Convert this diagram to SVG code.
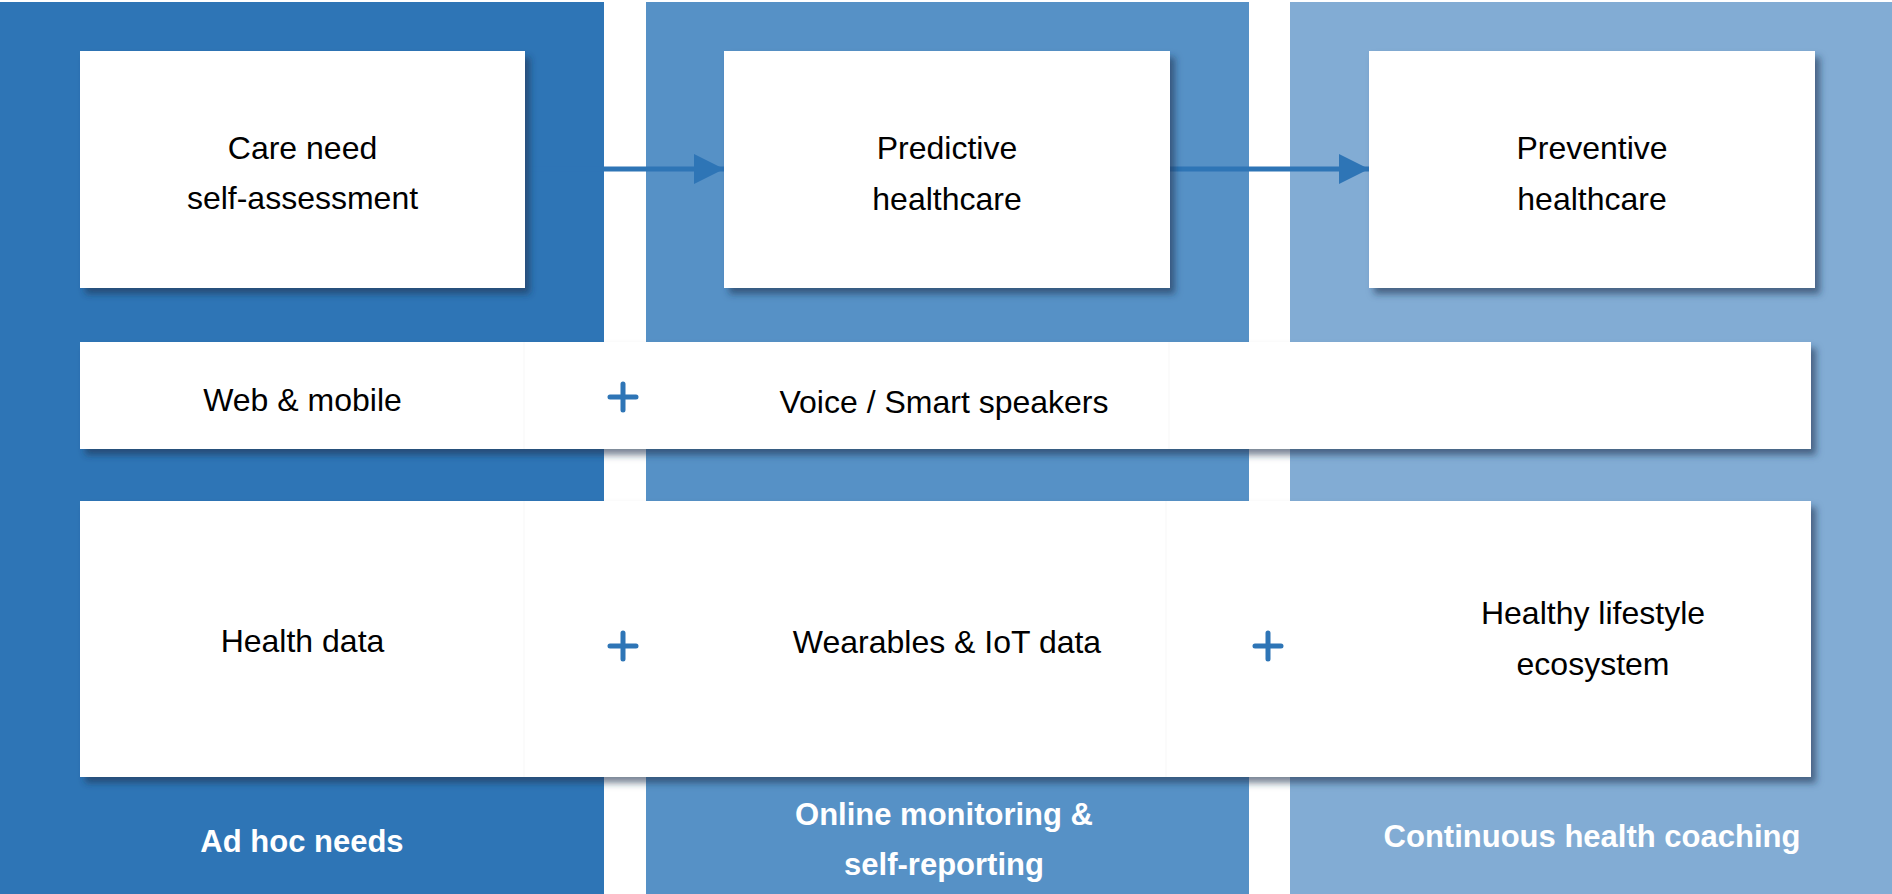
<svg xmlns="http://www.w3.org/2000/svg" width="1892" height="894" viewBox="0 0 1892 894">
<defs>
<filter id="sh" x="-5%" y="-10%" width="115%" height="130%">
<feDropShadow dx="5" dy="6" stdDeviation="3.5" flood-color="#1c3350" flood-opacity="0.6"/>
</filter>
<marker id="ah" markerUnits="userSpaceOnUse" markerWidth="32" markerHeight="32" refX="30" refY="15" orient="auto">
<path d="M0,0 L30,15 L0,30 Z" fill="#2E75B6"/>
</marker>
</defs>
<style>
.box{fill:#ffffff;filter:url(#sh)}
.t{font-family:"Liberation Sans",Arial,sans-serif;font-size:32px;fill:#000;text-anchor:middle}
.lb{font-family:"Liberation Sans",Arial,sans-serif;font-size:31px;font-weight:bold;fill:#fff;text-anchor:middle}
.plus{stroke:#2E75B6;stroke-width:5;stroke-linecap:round;fill:none}
.seam{stroke:#f7f7f7;stroke-width:1}
.conn{stroke:#2E75B6;stroke-width:5;fill:none}
</style>
<rect x="0" y="0" width="1892" height="894" fill="#ffffff"/>
<g id="columns">
<rect x="0" y="2" width="604" height="892" fill="#2E75B6"/>
<rect x="646" y="2" width="603" height="892" fill="#5691C6"/>
<rect x="1290" y="2" width="602" height="892" fill="#82ACD4"/>
</g>
<g id="connectors">
<line class="conn" x1="525" y1="169" x2="724" y2="169" marker-end="url(#ah)"/>
<line class="conn" x1="1170" y1="169" x2="1369" y2="169" marker-end="url(#ah)"/>
</g>
<g id="n-care">
<rect class="box" x="80" y="51" width="445" height="237"/>
<text class="t" x="302.5" y="159">Care need</text>
<text class="t" x="302.5" y="209">self-assessment</text>
</g>
<g id="n-predictive">
<rect class="box" x="724" y="51" width="446" height="237"/>
<text class="t" x="947" y="159">Predictive</text>
<text class="t" x="947" y="210">healthcare</text>
</g>
<g id="n-preventive">
<rect class="box" x="1369" y="51" width="446" height="237"/>
<text class="t" x="1592" y="159">Preventive</text>
<text class="t" x="1592" y="210">healthcare</text>
</g>
<g id="n-channels">
<rect class="box" x="80" y="342" width="1731" height="107"/>
<line class="seam" x1="524" y1="342" x2="524" y2="449"/>
<line class="seam" x1="1169" y1="342" x2="1169" y2="449"/>
<text class="t" x="302.5" y="411">Web &amp; mobile</text>
<text class="t" x="944" y="413">Voice / Smart speakers</text>
<path class="plus" d="M623,384 V410 M610,397 H636"/>
</g>
<g id="n-data">
<rect class="box" x="80" y="501" width="1731" height="276"/>
<line class="seam" x1="524" y1="501" x2="524" y2="777"/>
<line class="seam" x1="1166" y1="501" x2="1166" y2="777"/>
<text class="t" x="302.5" y="652">Health data</text>
<text class="t" x="947" y="653">Wearables &amp; IoT data</text>
<text class="t" x="1593" y="624">Healthy lifestyle</text>
<text class="t" x="1593" y="675">ecosystem</text>
<path class="plus" d="M623,633 V659 M610,646 H636"/>
<path class="plus" d="M1268,633 V659 M1255,646 H1281"/>
</g>
<g id="labels">
<text class="lb" x="302" y="852">Ad hoc needs</text>
<text class="lb" x="944" y="825">Online monitoring &amp;</text>
<text class="lb" x="944" y="875">self-reporting</text>
<text class="lb" x="1592" y="847">Continuous health coaching</text>
</g>
</svg>
